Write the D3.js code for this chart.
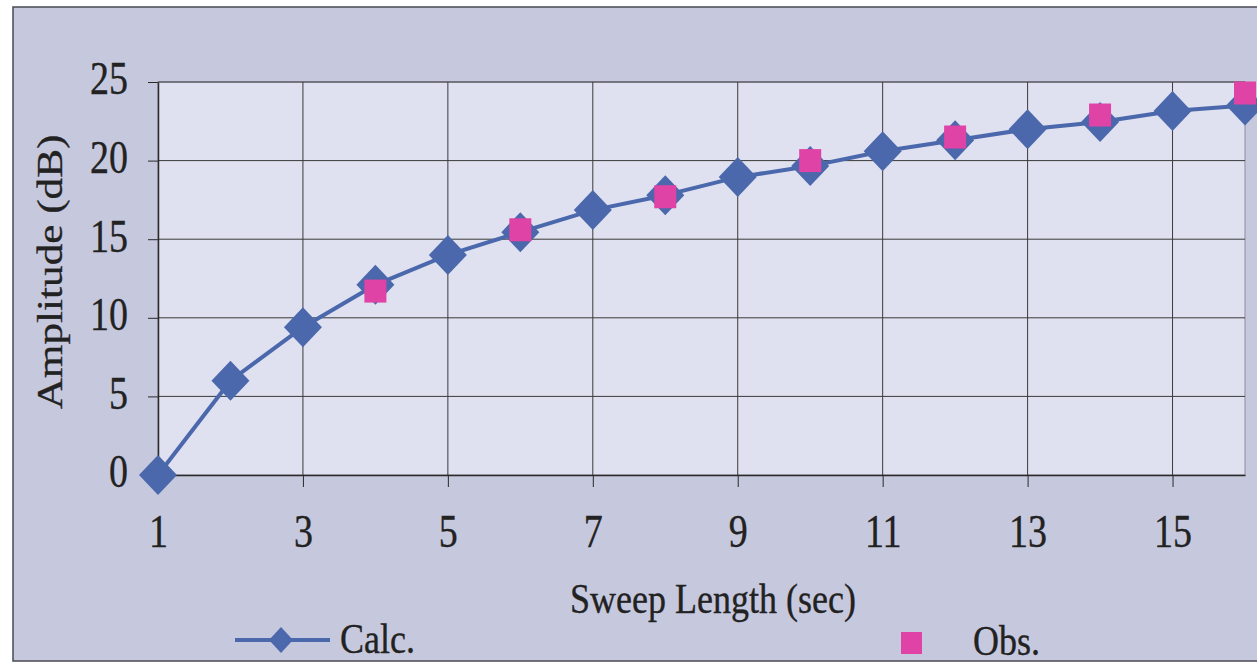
<!DOCTYPE html>
<html>
<head>
<meta charset="utf-8">
<script src="https://cdn.jsdelivr.net/npm/d3@7"></script>
<style>
  body { margin: 0; background: #ffffff; }
  svg { display: block; }
  text { font-family: "Liberation Serif", "Times New Roman", serif; fill: #222222; stroke: #222222; stroke-width: 0.3px; }
</style>
</head>
<body>
<svg id="chart" width="1257" height="668"></svg>
<script>
// Sweep length (sec) and amplitude (dB) series
const sweepLength = [1, 2, 3, 4, 5, 6, 7, 8, 9, 10, 11, 12, 13, 14, 15, 16];
const calcAmplitude = [0, 6.0, 9.4, 12.1, 14.0, 15.45, 16.85, 17.8, 18.95, 19.65, 20.6, 21.3, 22.0, 22.45, 23.15, 23.5];
const obsLength = [4, 6, 8, 10, 12, 14, 16];
const obsAmplitude = [11.7, 15.6, 17.7, 20.0, 21.5, 22.9, 24.3];
const xTickValues = [1, 3, 5, 7, 9, 11, 13, 15];
const yTickValues = [0, 5, 10, 15, 20, 25];
const seriesNames = ["Calc.", "Obs."];
const xTitle = "Sweep Length (sec)";
const yTitle = "Amplitude (dB)";

const svg = d3.select("#chart");
const W = 1257, H = 668;
const plot = { left: 158, right: 1245, top: 82, bottom: 475 };
const stretch = 1.2;            // tall serif lettering
const calcColor = "#4a68ab";
const obsColor = "#e043a6";

const x = d3.scaleLinear().domain([1, 16]).range([plot.left, plot.right]);
const y = d3.scaleLinear().domain([0, 25]).range([plot.bottom, plot.top]);

// Outer chart area
svg.append("rect")
  .attr("x", 13).attr("y", 7)
  .attr("width", W + 10).attr("height", 654)
  .attr("fill", "#c6c8dd")
  .attr("stroke", "#4a4a55").attr("stroke-width", 1.5);

// Plot area
svg.append("rect")
  .attr("x", plot.left).attr("y", plot.top)
  .attr("width", plot.right - plot.left).attr("height", plot.bottom - plot.top)
  .attr("fill", "#dfe0f0")
  .attr("stroke", "#8c8ca0").attr("stroke-width", 1);

// Gridlines
const grid = svg.append("g").attr("stroke", "#3a3a3a").attr("stroke-width", 1);
grid.selectAll("line.h").data(yTickValues.filter(v => v > 0)).join("line")
  .attr("class", "h")
  .attr("x1", plot.left).attr("x2", plot.right)
  .attr("y1", d => y(d)).attr("y2", d => y(d));
grid.selectAll("line.v").data(xTickValues.filter(v => v > 1)).join("line")
  .attr("class", "v")
  .attr("x1", d => x(d)).attr("x2", d => x(d))
  .attr("y1", plot.top).attr("y2", plot.bottom);

// X axis
const xAxis = svg.append("g")
  .attr("transform", `translate(0,${plot.bottom})`)
  .call(d3.axisBottom(x).tickValues(xTickValues).tickSize(12).tickSizeOuter(0).tickFormat(d3.format("d")));
xAxis.select(".domain").attr("stroke", "#2a2a2a").attr("stroke-width", 1.5);
xAxis.selectAll(".tick line").attr("stroke", "#2a2a2a");
xAxis.selectAll(".tick text")
  .attr("y", 72 / stretch).attr("dy", 0)
  .attr("transform", `scale(1,${stretch})`)
  .style("font-size", "38px").attr("fill", "#222222");

// Y axis
const yAxis = svg.append("g")
  .attr("transform", `translate(${plot.left},0)`)
  .call(d3.axisLeft(y).tickValues(yTickValues).tickSize(10).tickSizeOuter(0).tickFormat(d3.format("d")));
yAxis.select(".domain").attr("stroke", "#2a2a2a").attr("stroke-width", 1.5);
yAxis.selectAll(".tick line").attr("stroke", "#2a2a2a");
yAxis.selectAll(".tick text")
  .attr("x", -30).attr("dy", "0.26em")
  .attr("transform", `scale(1,${stretch})`)
  .style("font-size", "38px").attr("fill", "#222222");

// Axis titles
svg.append("text")
  .attr("transform", `translate(713,613) scale(1,${stretch})`)
  .attr("text-anchor", "middle")
  .style("font-size", "36px")
  .text(xTitle);
svg.append("text")
  .attr("transform", `translate(62,272) scale(1,${stretch}) rotate(-90)`)
  .attr("text-anchor", "middle")
  .style("font-size", "36px")
  .text(yTitle);

// Calc. series line
const calcData = sweepLength.map((s, i) => ({ s, a: calcAmplitude[i] }));
svg.append("path")
  .datum(calcData)
  .attr("fill", "none")
  .attr("stroke", calcColor)
  .attr("stroke-width", 4)
  .attr("stroke-linejoin", "round")
  .attr("d", d3.line().x(d => x(d.s)).y(d => y(d.a)));

const diamond = "M0,-20L19,0L0,20L-19,0Z";
svg.append("g").selectAll("path").data(calcData).join("path")
  .attr("transform", d => `translate(${x(d.s)},${y(d.a)})`)
  .attr("d", diamond)
  .attr("fill", calcColor);

// Obs. series markers
const obsData = obsLength.map((s, i) => ({ s, a: obsAmplitude[i] }));
svg.append("g").selectAll("rect").data(obsData).join("rect")
  .attr("x", d => x(d.s) - 11).attr("y", d => y(d.a) - 11.5)
  .attr("width", 22).attr("height", 23)
  .attr("fill", obsColor);

// Legend
const legend = svg.append("g");
legend.append("line")
  .attr("x1", 235).attr("x2", 330).attr("y1", 640).attr("y2", 640)
  .attr("stroke", calcColor).attr("stroke-width", 4);
legend.append("path")
  .attr("transform", "translate(281,640)")
  .attr("d", "M0,-13L12,0L0,13L-12,0Z")
  .attr("fill", calcColor);
legend.append("text")
  .attr("transform", `translate(340,653) scale(1,${stretch})`)
  .style("font-size", "36px")
  .text(seriesNames[0]);
legend.append("rect")
  .attr("x", 901).attr("y", 632).attr("width", 21).attr("height", 22)
  .attr("fill", obsColor);
legend.append("text")
  .attr("transform", `translate(973,655) scale(1,${stretch})`)
  .style("font-size", "36px")
  .text(seriesNames[1]);
</script>
</body>
</html>
